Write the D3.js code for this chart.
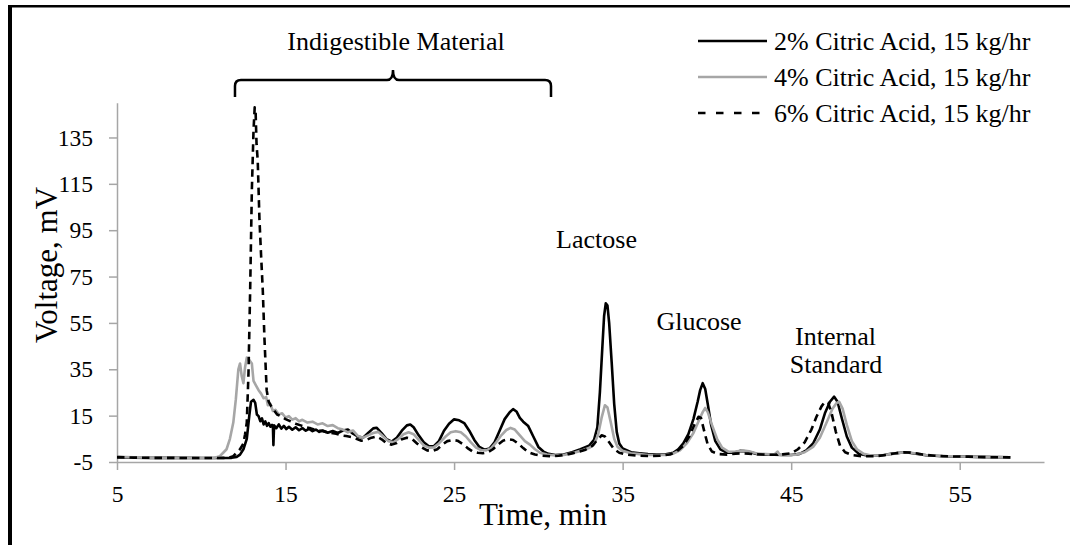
<!DOCTYPE html>
<html>
<head>
<meta charset="utf-8">
<script src="https://cdn.jsdelivr.net/npm/d3@7/dist/d3.min.js"></script>
<style>
  html, body { margin: 0; padding: 0; background: #fff; }
  svg { display: block; }
  svg text { font-family: "Liberation Serif", "Times New Roman", serif !important; fill: #000; }
</style>
</head>
<body>
<svg id="chart" width="1070" height="545"></svg>
<script>
// ---- Data (time in min, voltage in mV) ----
const seriesNames = ["2% Citric Acid, 15 kg/hr", "4% Citric Acid, 15 kg/hr", "6% Citric Acid, 15 kg/hr"];

const citric2 = [
[5,-3.0],[6,-3.1],[7,-3.2],[8,-3.2],[9,-3.2],[10,-3.3],[11,-3.3],[11.8,-3.2],[12.1,-2.8],[12.3,-1.8],[12.5,0.5],
[12.7,5],[12.85,15],[12.95,21],[13.1,21.8],[13.2,20.5],[13.3,15.5],[13.4,14.8],[13.5,12.6],[13.6,13.8],[13.7,11.2],
[13.8,12.5],[13.9,10.6],[14.0,11.8],[14.1,10.2],[14.2,11],[14.25,10.5],[14.28,2.3],[14.32,10.8],[14.45,9.6],[14.6,11.2],
[14.75,9.4],[14.9,10.6],[15.05,9.2],[15.2,10.2],[15.4,8.9],[15.6,10],[15.8,8.7],[16.0,9.6],[16.2,8.5],[16.4,9.3],
[16.6,8.3],[16.8,9.0],[17.0,8.0],[17.2,8.6],[17.5,7.6],[17.8,8.4],[18.1,7.5],[18.4,8.6],[18.7,9.0],[19.0,7.2],
[19.3,6.0],[19.6,5.5],[19.9,7.5],[20.2,9.5],[20.4,9.8],[20.7,7.5],[21.0,4.8],[21.3,3.8],[21.6,5.5],[21.9,8.5],
[22.2,10.8],[22.4,11.2],[22.6,10],[22.9,6.5],[23.2,3.5],[23.5,1.8],[23.8,1.8],[24.1,4],[24.4,8.5],[24.7,11.5],
[25.0,13.4],[25.3,13],[25.6,11.8],[25.9,8.5],[26.2,4.5],[26.5,1.5],[26.8,0.3],[27.1,0.8],[27.4,3.5],[27.7,8.5],
[28.0,13.5],[28.3,16.5],[28.5,17.8],[28.7,16.8],[28.9,14],[29.1,12.4],[29.4,10.5],[29.7,6],[30.0,1.5],[30.3,-0.5],
[30.6,-1.5],[31.0,-2],[31.5,-1.8],[32.0,-0.8],[32.5,0.5],[33.0,2],[33.3,4.5],[33.5,10],[33.65,25],[33.8,45],
[33.9,58],[34.0,63.5],[34.1,62.5],[34.2,55],[34.35,38],[34.5,20],[34.65,8],[34.8,3],[35.0,0.8],[35.5,-0.8],
[36,-1.2],[36.5,-1.6],[37,-1.8],[37.5,-1.8],[38.0,-1],[38.3,0.5],[38.6,3],[38.9,7],[39.2,13.5],[39.45,21],
[39.6,26],[39.75,29],[39.9,26.5],[40.05,20],[40.25,11],[40.5,4],[40.8,0.5],[41.2,-1],[41.6,-1],[42.0,-0.2],
[42.4,-0.5],[43,-1.6],[43.5,-1.8],[44,-1.9],[44.5,-2],[45,-2],[45.5,-1.5],[45.9,0],[46.3,3],[46.7,9],
[47.0,16],[47.3,21],[47.55,23.2],[47.75,21],[48.0,14],[48.3,6],[48.6,1.2],[49.0,-1.4],[49.5,-2.2],[50,-2.3],
[50.5,-2],[51,-1.4],[51.5,-1],[51.9,-0.9],[52.3,-1.3],[53,-2.1],[54,-2.5],[55,-2.6],[56,-2.8],[57,-2.9],[58,-3]
];

const citric4 = [
[5,-2.8],[6,-3.0],[7,-3.1],[8,-3.2],[9,-3.2],[10,-3.3],[10.8,-3.2],[11.1,-2.5],[11.3,-1],[11.5,0.5],[11.7,5],
[11.9,12],[12.05,22],[12.2,35],[12.3,37.5],[12.4,32],[12.5,29],[12.6,36],[12.7,40],[12.85,39],[13.0,37.5],
[13.1,30],[13.25,28],[13.4,26],[13.55,24.5],[13.7,22.5],[13.85,23],[13.95,19.5],[14.1,20],[14.25,17],[14.4,17.5],
[14.6,15.5],[14.8,16],[15.0,14.2],[15.2,14.8],[15.4,13.3],[15.6,13.9],[15.8,12.6],[16.0,13.2],[16.3,12],[16.6,12.4],
[16.9,11.2],[17.2,11.7],[17.5,10.5],[17.8,10.9],[18.1,9.6],[18.4,9],[18.7,7.8],[19.0,8.6],[19.3,6.2],[19.6,5.5],
[19.9,6.5],[20.2,7.5],[20.5,8],[20.8,6],[21.1,4],[21.4,3.5],[21.7,5],[22.0,7],[22.3,7.8],[22.6,7],
[22.9,4.5],[23.2,2.2],[23.5,1.2],[23.8,1.3],[24.1,3],[24.5,6],[24.8,7.8],[25.1,8.3],[25.4,7.8],[25.7,6],
[26.0,3.5],[26.3,1.2],[26.6,0.2],[26.9,0],[27.2,1],[27.5,3.5],[27.8,6.5],[28.1,8.8],[28.35,9.7],[28.6,9],
[28.9,6.5],[29.2,4],[29.5,2.5],[29.8,0.5],[30.1,-1],[30.5,-1.8],[31,-2.2],[31.5,-2],[32.0,-1.2],[32.5,-0.2],
[33.0,1],[33.3,2.5],[33.55,7],[33.75,14],[33.95,19.5],[34.1,18.5],[34.3,12],[34.5,5],[34.7,1.5],[35.0,-0.2],
[35.5,-1.2],[36,-1.6],[36.5,-2],[37,-2],[37.5,-2],[38.0,-1.4],[38.4,0],[38.8,3],[39.2,7.5],[39.5,12.5],
[39.75,16.5],[39.9,18.3],[40.05,16.5],[40.3,11],[40.6,5],[40.9,1.2],[41.3,-0.6],[41.7,-0.5],[42.1,0],[42.5,-0.4],
[43,-1.4],[43.5,-1.6],[44,-1.8],[44.2,-0.5],[44.3,-1.8],[44.8,-2],[45.3,-1.8],[45.8,-0.8],[46.3,1.5],[46.7,5.5],
[47.1,12],[47.45,18],[47.7,20.5],[47.85,21],[48.05,18],[48.3,11],[48.6,4],[48.9,0.5],[49.3,-1.5],[49.8,-2.3],
[50.4,-2.1],[51,-1.5],[51.5,-1],[51.9,-0.8],[52.4,-1.3],[53,-2],[54,-2.4],[55,-2.6],[56,-2.8],[57,-2.9],[58,-3]
];

const citric6 = [
[5,-2.9],[6,-3.1],[7,-3.2],[8,-3.2],[9,-3.3],[10,-3.3],[11,-3.3],[11.6,-3.2],[11.9,-2.5],[12.1,-1],[12.3,0.5],
[12.5,3],[12.6,7],[12.7,12],[12.8,33],[12.9,69],[13.0,112],[13.1,138],[13.17,148],[13.22,147],[13.28,132],
[13.35,125],[13.45,100],[13.55,84],[13.65,69],[13.75,48],[13.88,26],[14.0,21],[14.15,19],[14.3,17.5],[14.5,15.5],
[14.7,14.8],[15.0,13.5],[15.3,12.5],[15.6,11.5],[15.9,10.8],[16.2,10],[16.5,9.5],[16.8,8.8],[17.1,8.5],[17.4,8],
[17.7,7.5],[18.0,7.2],[18.3,6.5],[18.6,6.2],[18.9,5.8],[19.2,5],[19.5,4.2],[19.8,4.5],[20.1,5.5],[20.4,6],
[20.7,4.8],[21.0,3],[21.3,2.5],[21.6,3.2],[21.9,4.8],[22.2,5.5],[22.5,5],[22.8,3],[23.1,1.2],[23.4,0],
[23.7,-0.3],[24.0,0.5],[24.3,2.5],[24.6,4],[24.9,4.5],[25.2,4.2],[25.5,2.8],[25.8,1],[26.1,-0.5],[26.4,-1],
[26.7,-1.2],[27.0,-0.8],[27.3,0.5],[27.6,2.5],[27.9,4.2],[28.2,4.8],[28.5,4.5],[28.8,3],[29.1,1],[29.4,-0.8],
[29.8,-1.8],[30.2,-2.3],[30.7,-2.5],[31.2,-2.3],[31.8,-1.6],[32.3,-0.8],[32.8,0.3],[33.2,2],[33.5,4.5],[33.75,6.5],
[33.95,6],[34.2,3.5],[34.5,0.5],[34.8,-1],[35.2,-1.8],[35.8,-2.2],[36.5,-2.4],[37.2,-2.3],[37.8,-1.8],[38.2,-0.5],
[38.6,2],[38.95,6],[39.25,11],[39.5,14.5],[39.65,14],[39.85,8],[40.05,2.5],[40.3,-0.5],[40.7,-1.6],[41.2,-1.8],
[41.7,-1.4],[42.2,-1.3],[42.8,-1.6],[43.5,-1.8],[44,-1.9],[44.5,-1.7],[45,-1.2],[45.4,0.5],[45.8,3.5],[46.2,9],
[46.5,14.5],[46.8,19],[47.0,21],[47.2,20.5],[47.4,16],[47.65,8],[47.9,2],[48.2,-0.8],[48.6,-2],[49.2,-2.5],
[50,-2.5],[50.6,-2],[51.2,-1.2],[51.7,-0.8],[52.2,-1],[52.8,-1.8],[53.5,-2.3],[54.5,-2.6],[55.5,-2.7],[56.5,-2.9],[58,-3]
];

const xTicks = [5, 15, 25, 35, 45, 55];
const yTicks = [-5, 15, 35, 55, 75, 95, 115, 135];
const xDomain = [5, 60];
const yDomain = [-5, 150];

const annotations = [
  { text: "Lactose", x: 33.45, y: 87.3 },
  { text: "Glucose", x: 39.53, y: 51.9 },
  { text: "Internal", x: 47.63, y: 45.5 },
  { text: "Standard", x: 47.66, y: 33.4 }
];
const bracketRange = [12.0, 30.75];
const bracketLabel = "Indigestible Material";

// ---- Drawing ----
const svg = d3.select("#chart");
const FONT = '"Liberation Serif", "Times New Roman", serif';

// frame (partial border as in the source image)
svg.append("line").attr("x1", 10).attr("x2", 10).attr("y1", 5).attr("y2", 545)
  .attr("stroke", "#000").attr("stroke-width", 4);
svg.append("line").attr("x1", 8).attr("x2", 1070).attr("y1", 6.2).attr("y2", 6.2)
  .attr("stroke", "#000").attr("stroke-width", 2.5);

const x = d3.scaleLinear().domain(xDomain).range([117, 1044]);
const y = d3.scaleLinear().domain(yDomain).range([462, 102.7]);

const axisColor = "#a6a6a6";

const gx = svg.append("g").attr("transform", `translate(0,${y(-5)})`)
  .call(d3.axisBottom(x).tickValues(xTicks).tickFormat(d => String(d)).tickSize(8).tickSizeOuter(0).tickPadding(15));
const gy = svg.append("g").attr("transform", `translate(${x(5)},0)`)
  .call(d3.axisLeft(y).tickValues(yTicks).tickFormat(d => String(d)).tickSize(8).tickSizeOuter(0).tickPadding(16));

[gx, gy].forEach(g => {
  g.attr("font-family", FONT).attr("font-size", 23.5);
  g.select(".domain").attr("stroke", axisColor).attr("stroke-width", 1.5);
  g.selectAll(".tick line").attr("stroke", axisColor).attr("stroke-width", 1.5);
  g.selectAll(".tick text").style("font-family", FONT).style("font-size", "23.5px").attr("fill", "#000");
});

// traces
const line = d3.line().x(d => x(d[0])).y(d => y(d[1]));
const styles = [
  { data: citric2, color: "#000", dash: null },
  { data: citric4, color: "#a6a6a6", dash: null },
  { data: citric6, color: "#000", dash: "7.5,5" }
];
styles.forEach(s => {
  svg.append("path").datum(s.data)
    .attr("d", line)
    .attr("fill", "none")
    .attr("stroke", s.color)
    .attr("stroke-width", 2.6)
    .attr("stroke-linejoin", "round")
    .attr("stroke-dasharray", s.dash);
});

// axis titles
svg.append("text").attr("x", 543).attr("y", 525).attr("text-anchor", "middle")
  .style("font-size", "31px").text("Time, min");
svg.append("text").attr("transform", "translate(57,265) rotate(-90)").attr("text-anchor", "middle")
  .style("font-size", "31px").text("Voltage, mV");

// legend
const legendStyles = [
  { color: "#000", dash: null },
  { color: "#a6a6a6", dash: null },
  { color: "#000", dash: "7.5,10.5" }
];
seriesNames.forEach((name, i) => {
  const ly = 41 + i * 36;
  svg.append("line").attr("x1", 698).attr("x2", 767).attr("y1", ly).attr("y2", ly)
    .attr("stroke", legendStyles[i].color).attr("stroke-width", 2.6)
    .attr("stroke-dasharray", legendStyles[i].dash);
  svg.append("text").attr("x", 774).attr("y", ly + 9).style("font-size", "26px").text(name);
});

// annotations
annotations.forEach(a => {
  svg.append("text").attr("x", x(a.x)).attr("y", y(a.y)).attr("text-anchor", "middle")
    .style("font-size", "26px").text(a.text);
});

// bracket
const bx0 = x(bracketRange[0]), bx1 = x(bracketRange[1]), bm = (bx0 + bx1) / 2;
const bTop = 80, bEnd = 97, bCusp = 70;
const bp = d3.path();
bp.moveTo(bx0, bEnd);
bp.lineTo(bx0, bTop + 6);
bp.quadraticCurveTo(bx0, bTop, bx0 + 6, bTop);
bp.lineTo(bm - 6, bTop);
bp.quadraticCurveTo(bm, bTop, bm, bCusp);
bp.quadraticCurveTo(bm, bTop, bm + 6, bTop);
bp.lineTo(bx1 - 6, bTop);
bp.quadraticCurveTo(bx1, bTop, bx1, bTop + 6);
bp.lineTo(bx1, bEnd);
svg.append("path").attr("d", bp.toString()).attr("fill", "none")
  .attr("stroke", "#000").attr("stroke-width", 2.5);
svg.append("text").attr("x", bm + 3).attr("y", 50).attr("text-anchor", "middle")
  .style("font-size", "26px").text(bracketLabel);
</script>
</body>
</html>
